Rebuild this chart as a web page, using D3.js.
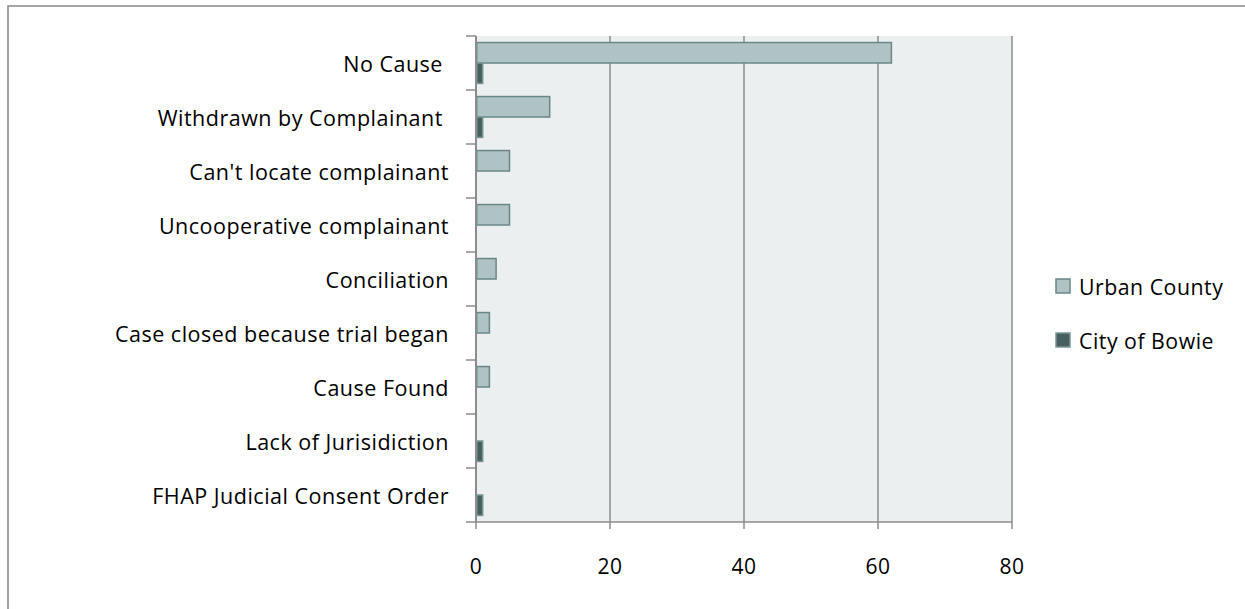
<!DOCTYPE html>
<html>
<head>
<meta charset="utf-8">
<script src="https://cdn.jsdelivr.net/npm/d3@7"></script>
<style>
  html, body { margin: 0; padding: 0; background: #fff; }
  svg { display: block; }
  text { font-family: "Open Sans", Lato, sans-serif; fill: #000; letter-spacing: 0.5px; }
</style>
</head>
<body>
<svg id="chart" width="1245" height="609"></svg>
<script>
// Complaint closure reasons, top to bottom
const categories = [
  "No Cause ",
  "Withdrawn by Complainant ",
  "Can't locate complainant",
  "Uncooperative complainant",
  "Conciliation",
  "Case closed because trial began",
  "Cause Found",
  "Lack of Jurisidiction",
  "FHAP Judicial Consent Order"
];
const seriesNames = ["Urban County", "City of Bowie"];
const urbanCounty = [62, 11, 5, 5, 3, 2, 2, 0, 0];
const cityOfBowie = [1, 1, 0, 0, 0, 0, 0, 1, 1];
const xTicks = [0, 20, 40, 60, 80];

const fills = ["#b0c3c4", "#47605f"];
const strokes = ["#6a8787", "#7a9595"];

const svg = d3.select("#chart");

// outer frame
svg.append("path")
  .attr("d", "M8,620 L8,6 L1260,6")
  .attr("fill", "none").attr("stroke", "#8a8a8a").attr("stroke-width", 1.6);

const plot = { left: 476, right: 1012, top: 36, bottom: 522 };

const x = d3.scaleLinear().domain([0, 80]).range([plot.left, plot.right]);
const y = d3.scaleBand().domain(categories).range([plot.top, plot.bottom]).padding(0);
const inner = d3.scaleBand().domain(seriesNames)
  .range([0, y.bandwidth()]).paddingInner(0).paddingOuter(0.32);

// plot background
svg.append("rect")
  .attr("x", plot.left).attr("y", plot.top)
  .attr("width", plot.right - plot.left).attr("height", plot.bottom - plot.top)
  .attr("fill", "#ebeff0");

// vertical gridlines
svg.append("g").selectAll("line").data(xTicks.slice(1)).join("line")
  .attr("x1", d => x(d)).attr("x2", d => x(d))
  .attr("y1", plot.top).attr("y2", plot.bottom)
  .attr("stroke", "#8c8c8c").attr("stroke-width", 1.5);

// bars
const rows = categories.map((c, i) => ({ c, vals: [urbanCounty[i], cityOfBowie[i]] }));
const g = svg.append("g");
rows.forEach(r => {
  r.vals.forEach((v, k) => {
    if (v <= 0) return;
    g.append("rect")
      .attr("x", x(0) + 0.75)
      .attr("y", y(r.c) + inner(seriesNames[k]))
      .attr("width", x(v) - x(0) - 0.75)
      .attr("height", inner.bandwidth())
      .attr("fill", fills[k])
      .attr("stroke", strokes[k])
      .attr("stroke-width", 1.5);
  });
});

// y axis line and category-boundary ticks
const edges = categories.map(c => y(c)).concat([plot.bottom]);
svg.append("line")
  .attr("x1", plot.left).attr("x2", plot.left)
  .attr("y1", plot.top).attr("y2", plot.bottom)
  .attr("stroke", "#8c8c8c").attr("stroke-width", 2);
svg.append("g").selectAll("line").data(edges).join("line")
  .attr("x1", plot.left - 10).attr("x2", plot.left)
  .attr("y1", d => d).attr("y2", d => d)
  .attr("stroke", "#8c8c8c").attr("stroke-width", 1.5);

// x axis line and ticks
svg.append("line")
  .attr("x1", plot.left).attr("x2", plot.right)
  .attr("y1", plot.bottom).attr("y2", plot.bottom)
  .attr("stroke", "#8c8c8c").attr("stroke-width", 1.5);
svg.append("g").selectAll("line").data(xTicks).join("line")
  .attr("x1", d => x(d)).attr("x2", d => x(d))
  .attr("y1", plot.bottom).attr("y2", plot.bottom + 7)
  .attr("stroke", "#8c8c8c").attr("stroke-width", 1.5);

// x tick labels
svg.append("g").selectAll("text").data(xTicks).join("text")
  .attr("x", d => x(d)).attr("y", 566)
  .attr("text-anchor", "middle").attr("dominant-baseline", "central")
  .attr("font-size", 21)
  .text(d => d);

// category labels
svg.append("g").selectAll("text").data(categories).join("text")
  .attr("x", 449)
  .attr("y", d => y(d) + y.bandwidth() / 2)
  .attr("text-anchor", "end").attr("dominant-baseline", "central")
  .attr("font-size", 21.5)
  .attr("xml:space", "preserve")
  .style("white-space", "pre")
  .text(d => d);

// legend
const legend = svg.append("g");
seriesNames.forEach((s, k) => {
  const ly = 286 + k * 54;
  legend.append("rect")
    .attr("x", 1056).attr("y", ly - 7)
    .attr("width", 14).attr("height", 14)
    .attr("fill", fills[k]).attr("stroke", strokes[k]).attr("stroke-width", 1.5);
  legend.append("text")
    .attr("x", 1079).attr("y", ly)
    .attr("dominant-baseline", "central")
    .attr("font-size", 21.3)
    .text(s);
});
</script>
</body>
</html>
